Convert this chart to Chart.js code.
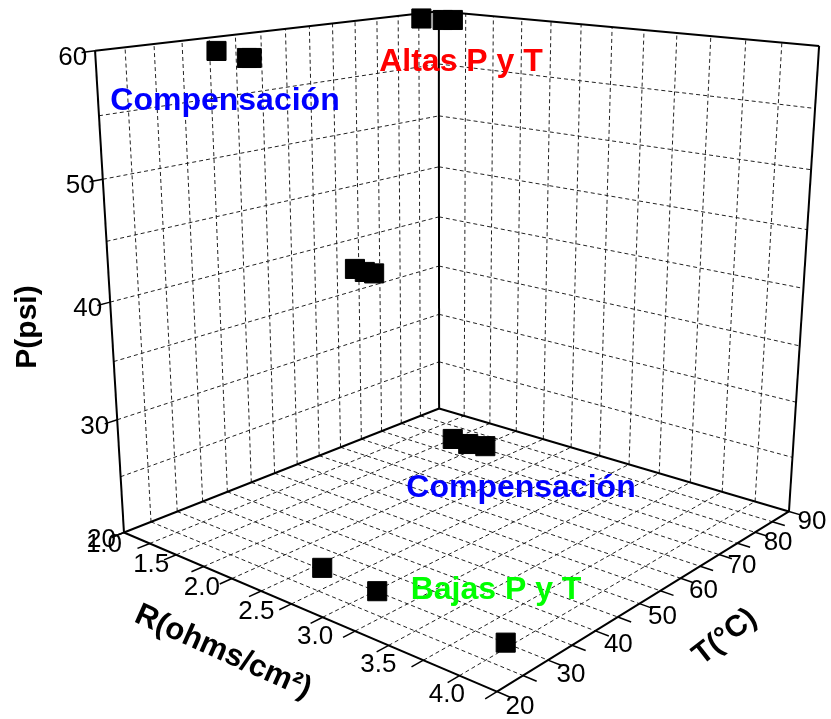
<!DOCTYPE html>
<html><head><meta charset="utf-8">
<script src="https://cdn.jsdelivr.net/npm/chart.js@4"></script>
<style>html,body{margin:0;padding:0;background:#fff}#wrap{width:831px;height:719px;position:relative}</style>
</head><body><div id="wrap"><canvas id="c"></canvas></div>
<script>
// ---------- data ----------
const pointR = [2.30, 2.76, 3.71, 1.50, 1.65, 1.77, 1.57, 1.67, 1.74, 1.52, 1.88, 1.90, 1.23, 1.40, 1.45];
const pointT = [30.4, 30.1, 30.1, 80.1, 80.0, 81.1, 55.4, 55.1, 55.4, 30.7, 28.5, 28.9, 79.6, 80.2, 81.3];
const pointP = [20, 20, 20, 20, 20, 20, 40, 40, 40, 60, 60, 60, 60, 60, 60];

const rLabels = [1.0, 1.5, 2.0, 2.5, 3.0, 3.5, 4.0];
const rMinor = [1.25, 1.5, 1.75, 2.0, 2.25, 2.5, 2.75, 3.0, 3.25, 3.5, 3.75];
const tLabels = [20, 30, 40, 50, 60, 70, 80, 90];
const tMinor = [25, 30, 35, 40, 45, 50, 55, 60, 65, 70, 75, 80, 85];
const pLabels = [20, 30, 40, 50, 60];
const pMinor = [25, 30, 35, 40, 45, 50, 55];
const groupTexts = ['Compensación', 'Altas P y T', 'Compensación', 'Bajas P y T'];
const axisTitles = ['P(psi)', 'R(ohms/cm²)', 'T(°C)'];

const W = 831, H = 719;
// box corners on screen: [u,v,w,x,y]  (u=R, v=T, w=P normalised)
const CORNERS = [[0,0,0,124,532],[1,0,0,497,692],[1,1,0,789,511],[0,1,0,439,409],
                 [0,0,1,95,51],[0,1,1,439,11],[1,1,1,819,46]];
function solveDLT(pts){
  const rows=[], rhs=[];
  for (const [u,v,w,x,y] of pts){
    rows.push([u,v,w,1,0,0,0,0,-x*u,-x*v,-x*w]); rhs.push(x);
    rows.push([0,0,0,0,u,v,w,1,-y*u,-y*v,-y*w]); rhs.push(y);
  }
  const n=11; const M=[...Array(n)].map(()=>Array(n+1).fill(0));
  rows.forEach((r,k)=>{for(let i=0;i<n;i++){for(let j=0;j<n;j++)M[i][j]+=r[i]*r[j];M[i][n]+=r[i]*rhs[k];}});
  for(let i=0;i<n;i++){let p=i;for(let k=i+1;k<n;k++)if(Math.abs(M[k][i])>Math.abs(M[p][i]))p=k;[M[i],M[p]]=[M[p],M[i]];
    for(let k=0;k<n;k++){if(k===i)continue;const f=M[k][i]/M[i][i];for(let j=i;j<=n;j++)M[k][j]-=f*M[i][j];}}
  return M.map((r,i)=>r[n]/r[i]);
}
const PM = solveDLT(CORNERS);
function projUVW(u,v,w){const d=PM[8]*u+PM[9]*v+PM[10]*w+1;return {x:(PM[0]*u+PM[1]*v+PM[2]*w+PM[3])/d,y:(PM[4]*u+PM[5]*v+PM[6]*w+PM[7])/d};}
function proj(R,T,P){return projUVW((R-1)/3,(T-20)/70,(P-20)/40);}

const FONT='"Liberation Sans", Arial, sans-serif';
const box3d={
  id:'box3d',
  beforeDatasetsDraw(chart){
    const ctx=chart.ctx,sx=chart.scales.x,sy=chart.scales.y;
    const P=(r,t,p)=>{const q=proj(r,t,p);return [sx.getPixelForValue(q.x),sy.getPixelForValue(q.y)];};
    const line=(a,b)=>{ctx.beginPath();ctx.moveTo(a[0],a[1]);ctx.lineTo(b[0],b[1]);ctx.stroke();};
    ctx.save();
    ctx.setLineDash([4,3]);ctx.lineWidth=1;ctx.strokeStyle='#222';
    rMinor.forEach(r=>{line(P(r,20,20),P(r,90,20));line(P(r,90,20),P(r,90,60));});
    tMinor.forEach(t=>{line(P(1,t,20),P(4,t,20));line(P(1,t,20),P(1,t,60));});
    pMinor.forEach(p=>{line(P(1,20,p),P(1,90,p));line(P(1,90,p),P(4,90,p));});
    ctx.setLineDash([]);ctx.lineWidth=2;ctx.strokeStyle='#000';
    const E=[[[1,20,20],[4,20,20]],[[4,20,20],[4,90,20]],[[1,20,20],[1,90,20]],[[1,90,20],[4,90,20]],
      [[1,20,20],[1,20,60]],[[1,20,60],[1,90,60]],[[1,90,20],[1,90,60]],[[1,90,60],[4,90,60]],[[4,90,20],[4,90,60]]];
    E.forEach(e=>line(P(...e[0]),P(...e[1])));
    ctx.lineWidth=1.5;
    [1.0,...rMinor,4.0].forEach(r=>line(P(r,20,20),P(r,17.8,20)));
    [20,...tMinor,90].forEach(t=>line(P(4,t,20),P(4.09,t,20)));
    pLabels.forEach(p=>line(P(1,20,p),P(1,17.8,p)));
    ctx.fillStyle='#000';ctx.font='26px '+FONT;ctx.textBaseline='middle';
    ctx.textAlign='right';
    pLabels.forEach(p=>{const a=P(1,20,p);ctx.fillText(String(p),a[0]-8,a[1]+7);});
    ctx.textAlign='center';
    rLabels.forEach(r=>{const a=P(r,20,20);ctx.fillText(r.toFixed(1),a[0]-20-10*(r-1),a[1]+12-3*(r-1));});
    tLabels.forEach(t=>{const a=P(4,t,20);ctx.fillText(String(t),a[0]+23,a[1]+15-5*(t-20)/70);});
    ctx.restore();
  },
  afterDatasetsDraw(chart){
    const ctx=chart.ctx;ctx.save();
    ctx.textAlign='center';ctx.textBaseline='middle';
    ctx.font='bold 32px '+FONT;
    ctx.fillStyle='#0000ff';ctx.fillText(groupTexts[0],225,101);ctx.fillText(groupTexts[2],521,488);
    ctx.fillStyle='#ff0000';ctx.fillText(groupTexts[1],461,62);
    ctx.fillStyle='#00ff00';ctx.fillText(groupTexts[3],496,590);
    ctx.fillStyle='#000';ctx.font='bold 30px '+FONT;
    ctx.save();ctx.translate(28,327);ctx.rotate(-Math.PI/2);ctx.fillText(axisTitles[0],0,0);ctx.restore();
    ctx.save();ctx.translate(223,652);ctx.rotate(24*Math.PI/180);ctx.font='bold 31px '+FONT;ctx.fillText(axisTitles[1],0,0);ctx.restore();
    ctx.save();ctx.translate(725,637);ctx.rotate(-38*Math.PI/180);ctx.fillText(axisTitles[2],0,0);ctx.restore();
    ctx.restore();
  }
};

const pts=pointR.map((r,i)=>proj(r,pointT[i],pointP[i]));
new Chart(document.getElementById('c'),{
  type:'scatter',
  data:{datasets:[{data:pts,pointStyle:'rect',radius:13.5,hoverRadius:13.5,backgroundColor:'#000',borderColor:'#000',borderWidth:1,clip:false}]},
  options:{responsive:true,maintainAspectRatio:false,animation:false,
    layout:{padding:0,autoPadding:false},
    plugins:{legend:{display:false},tooltip:{enabled:false}},
    scales:{x:{type:'linear',min:0,max:W,display:false},y:{type:'linear',min:0,max:H,reverse:true,display:false}}},
  plugins:[box3d]
});
</script></body></html>
